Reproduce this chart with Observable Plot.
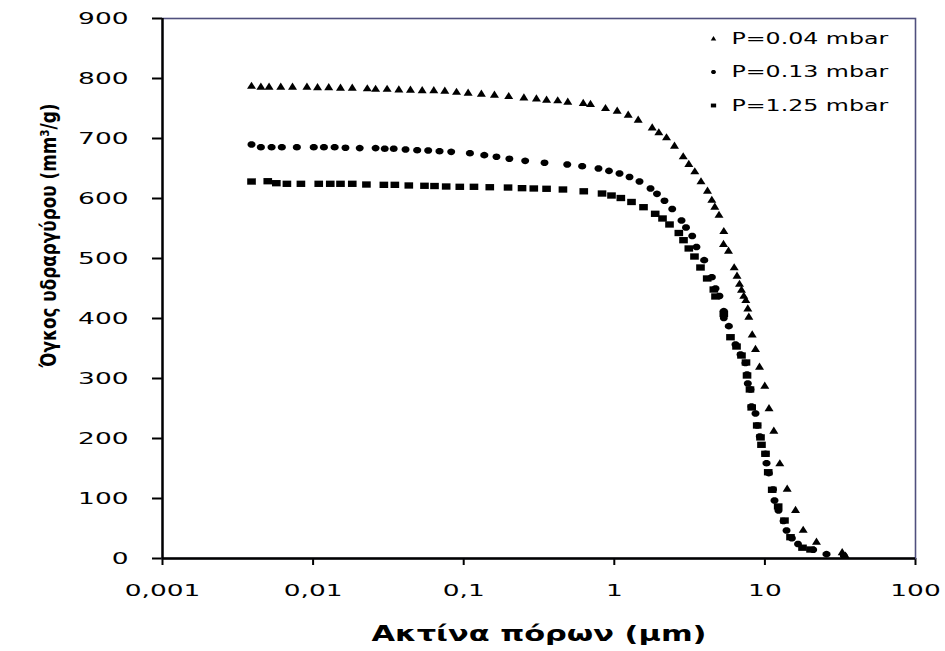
<!DOCTYPE html>
<html><head><meta charset="utf-8">
<script src="https://cdn.jsdelivr.net/npm/d3@7"></script>
<script src="https://cdn.jsdelivr.net/npm/@observablehq/plot@0.6"></script>
<style>
html,body{margin:0;padding:0;background:#fff;}
#chart svg{display:block;}
#chart svg g[aria-label^="x-axis"] line, #chart svg g[aria-label^="x-axis"] path,
#chart svg g[aria-label^="y-axis"] line, #chart svg g[aria-label^="y-axis"] path{stroke-width:2px;stroke:#000;}
</style></head><body><div id="chart"></div>
<script>
// ---- data ----
const seriesNames = ["P=0.04 mbar", "P=0.13 mbar", "P=1.25 mbar"];
const xTicks = [0.001, 0.01, 0.1, 1, 10, 100];
const xTickLabels = ["0,001", "0,01", "0,1", "1", "10", "100"];
const yTicks = [0, 100, 200, 300, 400, 500, 600, 700, 800, 900];
const xTitle = "Ακτίνα πόρων (μm)";
const yTitle = "Όγκος υδραργύρου (mm³/g)";

const r004 = [0.0039,0.0045,0.0051,0.0061,0.0073,0.0091,0.0107,0.0127,0.0152,0.0182,0.0229,0.026,0.031,0.0371,0.0443,0.053,0.0633,0.0749,0.0896,0.107,0.131,0.16,0.199,0.251,0.304,0.355,0.421,0.491,0.622,0.695,0.874,1.045,1.237,1.441,1.785,1.975,2.222,2.51,2.868,3.124,3.423,3.764,4.157,4.441,4.649,4.958,5.335,5.31,5.73,6.254,6.53,6.78,6.99,7.24,7.47,7.70,7.82,8.236,8.66,9.21,9.98,10.65,11.46,12.56,14.06,15.97,17.96,22.0,32.6,34.3];
const v004 = [788,786.7,786.7,786.7,786.7,786.7,785.8,785.8,785,785,784,783,783,782,781.7,780.8,780.8,780,778,776.7,775,773.3,771,768.8,767,765,764,761.7,759.5,757.8,751,746.7,740,731.7,718.8,710.5,702.2,688.3,670.5,657.8,645.5,629,613.3,598,586.7,573,546,524.5,513.3,485.5,471.7,458,448.3,438,431,417,403.3,373.8,349.5,320,288.3,250.8,213.3,159,116.7,81.2,48,28.3,10.8,5];

const r013 = [0.0039,0.0045,0.0053,0.0062,0.0078,0.0101,0.0118,0.0139,0.0164,0.0204,0.026,0.0299,0.0343,0.0411,0.0491,0.0581,0.0691,0.0826,0.110,0.137,0.165,0.201,0.256,0.344,0.487,0.612,0.785,0.922,1.083,1.262,1.470,1.740,1.920,2.154,2.424,2.794,2.993,3.291,3.514,3.953,4.441,4.699,4.995,5.335,5.335,5.76,6.38,6.89,7.43,7.61,7.70,8.02,8.15,8.66,8.89,9.25,10.09,10.25,10.61,11.32,11.58,12.31,13.29,13.92,15.09,16.59,20.93,25.65,33.4];
const v013 = [690,685.5,685.5,685.5,685.5,685.5,685.5,685.5,684.5,684,684,683,683,681.7,680.5,680,678.8,677.8,675.5,672.2,669.5,666.2,662.8,659.5,656.7,653.8,650,646,641.7,635.8,628.3,616.7,607.8,596.2,582.5,563.3,551.7,537.5,519.2,497.2,468.8,450,437.5,412.2,400.8,387.2,356.7,340,325.8,306.7,291.7,281.7,253.3,241.7,221.7,203.3,174.5,158.8,142.2,115,96.7,80,62.5,46.7,33.7,24.2,14.5,7.2,4.5];

const r125 = [0.0039,0.005,0.0057,0.0067,0.0083,0.0109,0.013,0.0152,0.0182,0.0226,0.0295,0.0349,0.0432,0.0549,0.064,0.0765,0.0942,0.117,0.149,0.197,0.244,0.292,0.355,0.456,0.627,0.829,0.958,1.105,1.301,1.563,1.869,2.090,2.326,2.682,2.881,3.124,3.407,3.735,4.138,4.579,4.699,5.335,5.907,6.48,6.99,7.49,7.61,7.96,8.17,8.89,9.35,9.49,10.09,10.52,11.18,12.25,13.49,14.79,17.77,20.09];
const v125 = [628.3,628.8,625.5,624.5,624.5,624.5,624.5,624.5,624.5,623.3,622.8,622.8,621.7,621.2,620.8,620,619.5,619.5,618.8,618.3,617.2,616.7,616.2,615,612,608.3,605,600.8,594.2,585.5,574.5,566.7,556.7,542.5,530.5,516.7,503.3,485,466.7,448.3,436.7,407.8,368.8,353.3,338.3,326.7,305,281.7,251.7,221.7,201.8,189.5,174.5,143.8,114.5,86.7,63.3,35.5,18,15];

// ---- symbols (slightly wide markers, like the reference) ----
const symTriangle = {draw(ctx, size) {
  const r = Math.sqrt(size / Math.PI);
  const w = r * 1.25, h = r * 1.1;
  ctx.moveTo(0, -h); ctx.lineTo(w, h * 0.8); ctx.lineTo(-w, h * 0.8); ctx.closePath();
}};
const symEllipse = {draw(ctx, size) {
  const r = Math.sqrt(size / Math.PI);
  const rx = r * 1.1, ry = r * 0.92, n = 20;
  for (let i = 0; i < n; i++) {
    const a = 2 * Math.PI * i / n;
    const px = rx * Math.cos(a), py = ry * Math.sin(a);
    if (i === 0) ctx.moveTo(px, py); else ctx.lineTo(px, py);
  }
  ctx.closePath();
}};
const symRect = {draw(ctx, size) {
  const r = Math.sqrt(size / Math.PI);
  const w = r * 1.2, h = r * 0.88;
  ctx.rect(-w, -h, 2 * w, 2 * h);
}};

const series = [
  {name: seriesNames[0], r: r004, v: v004, symbol: symTriangle},
  {name: seriesNames[1], r: r013, v: v013, symbol: symEllipse},
  {name: seriesNames[2], r: r125, v: v125, symbol: symRect}
];

const marks = [
  Plot.frame({stroke: "#50507e", strokeWidth: 1.6}),
  Plot.ruleY([0], {stroke: "#000", strokeWidth: 2.4}),
  Plot.ruleX([xTicks[0]], {stroke: "#000", strokeWidth: 2.4})
];
series.forEach((s, i) => {
  const rows = s.r.map((x, k) => ({x, y: s.v[k]}));
  marks.push(Plot.dot(rows, {x: "x", y: "y", symbol: s.symbol, r: 3.6, fill: "#000", stroke: "none"}));
  // legend
  marks.push(Plot.dot([s.name], {frameAnchor: "top-left", dx: 551, dy: 20 + 33.5 * i, symbol: s.symbol, r: 2.2, fill: "#000", stroke: "none"}));
  marks.push(Plot.text([s.name], {text: d => d, frameAnchor: "top-left", dx: 569, dy: 20 + 33.5 * i, textAnchor: "start", lineAnchor: "middle", fontSize: 16, fill: "#000"}));
});
marks.push(Plot.text([xTitle], {text: d => d, frameAnchor: "bottom", dy: 75, textAnchor: "middle", lineAnchor: "middle", fontSize: 22, fontWeight: "bold", fill: "#000"}));
marks.push(Plot.text([yTitle], {text: d => d, frameAnchor: "left", dx: -113, dy: -53, rotate: -90, textAnchor: "middle", lineAnchor: "middle", fontSize: 21, fontWeight: "bold", fontFamily: "'DejaVu Sans Condensed','Liberation Sans Narrow','DejaVu Sans'", fill: "#000"}));

const chart = Plot.plot({
  width: 945, height: 651,
  marginLeft: 162, marginRight: 30, marginTop: 18, marginBottom: 93,
  style: {fontFamily: "'DejaVu Sans', sans-serif", fontSize: "16.5px", color: "#000", background: "#fff"},
  x: {type: "log", domain: [xTicks[0], xTicks[xTicks.length - 1]], ticks: xTicks,
      tickFormat: d => xTickLabels[xTicks.findIndex(t => Math.abs(Math.log10(t) - Math.log10(d)) < 1e-6)],
      tickSize: 7, tickPadding: 19, label: null},
  y: {domain: [yTicks[0], yTicks[yTicks.length - 1]], ticks: yTicks, tickFormat: d => String(d),
      tickSize: 10, tickPadding: 24, label: null},
  marks
});
document.getElementById("chart").append(chart);

// stretch texts horizontally like the reference
const tickSet = new Set([...xTickLabels, ...yTicks.map(String)]);
chart.querySelectorAll("text").forEach(t => {
  const s = t.textContent;
  let L = null;
  const nat = t.getComputedTextLength();
  if (tickSet.has(s)) L = nat * 1.6;
  else if (seriesNames.includes(s)) L = nat * 1.48;
  else if (s === xTitle) L = 335;
  else if (s === yTitle) L = 264;
  if (L) { t.setAttribute("textLength", L); t.setAttribute("lengthAdjust", "spacingAndGlyphs"); }
});
</script></body></html>
